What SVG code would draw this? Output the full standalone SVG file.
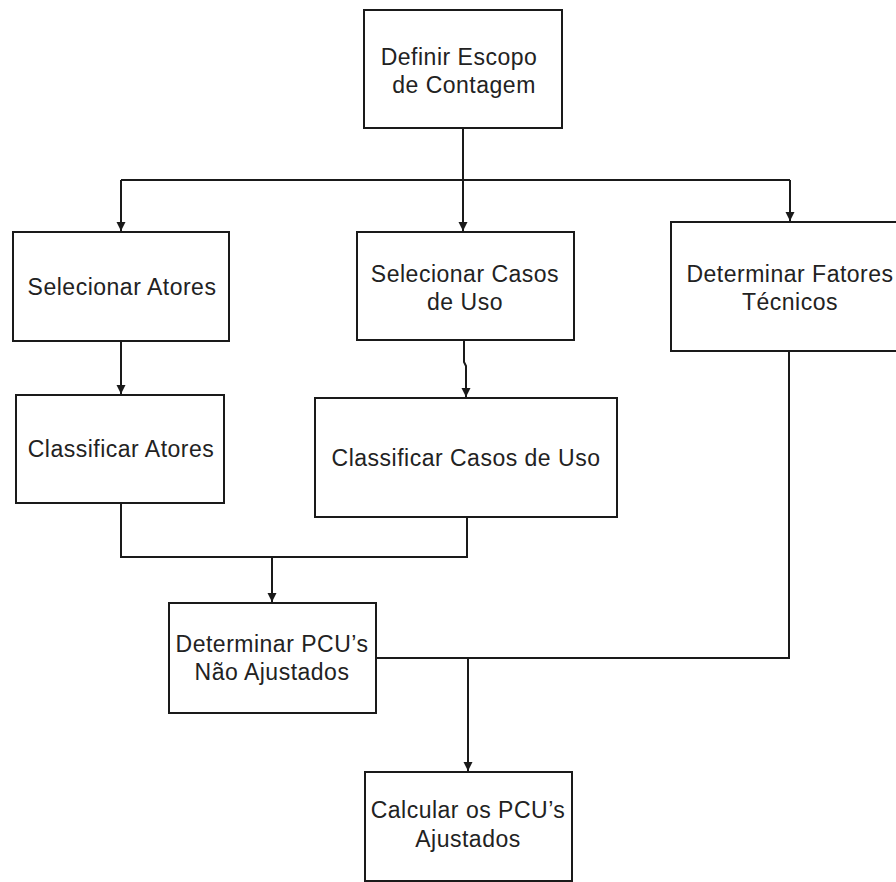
<svg xmlns="http://www.w3.org/2000/svg" width="896" height="882" viewBox="0 0 896 882">
<style>
.box{fill:#fff;stroke:#1a1a1a;stroke-width:2}
.lbl{font-family:"Liberation Sans",Arial,sans-serif;font-size:23px;fill:#222;text-anchor:middle;letter-spacing:0.5px}
.con{fill:none;stroke:#1a1a1a;stroke-width:2}
</style>
<defs>
<marker id="arr" markerWidth="10" markerHeight="10" refX="9" refY="5" orient="auto" markerUnits="userSpaceOnUse">
<path d="M0,0.5 L9,5 L0,9.5 Z" fill="#1a1a1a"/>
</marker>
</defs>
<rect width="896" height="882" fill="#fff"/>
<g id="connectors">
<path class="con" d="M463,128 V180"/>
<path class="con" d="M121,180 H790"/>
<path class="con" d="M121,180 V231" marker-end="url(#arr)"/>
<path class="con" d="M463,180 V231" marker-end="url(#arr)"/>
<path class="con" d="M790,180 V221" marker-end="url(#arr)"/>
<path class="con" d="M121,341 V394" marker-end="url(#arr)"/>
<path class="con" d="M464,340 V362 L466,366 V397" marker-end="url(#arr)"/>
<path class="con" d="M121,503 V557 H467 V517"/>
<path class="con" d="M272,557 V602" marker-end="url(#arr)"/>
<path class="con" d="M789,351 V658 H376"/>
<path class="con" d="M468,658 V771" marker-end="url(#arr)"/>
</g>
<g id="n1"><rect class="box" x="364" y="10" width="198" height="118"/>
<text class="lbl" x="459" y="65">Definir Escopo</text><text class="lbl" x="464" y="93">de Contagem</text></g>
<g id="n2"><rect class="box" x="13" y="232" width="216" height="109"/>
<text class="lbl" x="122" y="295">Selecionar Atores</text></g>
<g id="n3"><rect class="box" x="357" y="232" width="217" height="108"/>
<text class="lbl" x="465" y="282">Selecionar Casos</text><text class="lbl" x="465" y="310">de Uso</text></g>
<g id="n4"><rect class="box" x="671" y="222" width="240" height="129"/>
<text class="lbl" x="790" y="282">Determinar Fatores</text><text class="lbl" x="790" y="310">Técnicos</text></g>
<g id="n5"><rect class="box" x="16" y="395" width="208" height="108"/>
<text class="lbl" x="121" y="457">Classificar Atores</text></g>
<g id="n6"><rect class="box" x="315" y="398" width="302" height="119"/>
<text class="lbl" x="466" y="466">Classificar Casos de Uso</text></g>
<g id="n7"><rect class="box" x="169" y="603" width="207" height="110"/>
<text class="lbl" x="272" y="652">Determinar PCU’s</text><text class="lbl" x="272" y="680">Não Ajustados</text></g>
<g id="n8"><rect class="box" x="365" y="772" width="207" height="109"/>
<text class="lbl" x="468" y="818">Calcular os PCU’s</text><text class="lbl" x="468" y="847">Ajustados</text></g>
</svg>
